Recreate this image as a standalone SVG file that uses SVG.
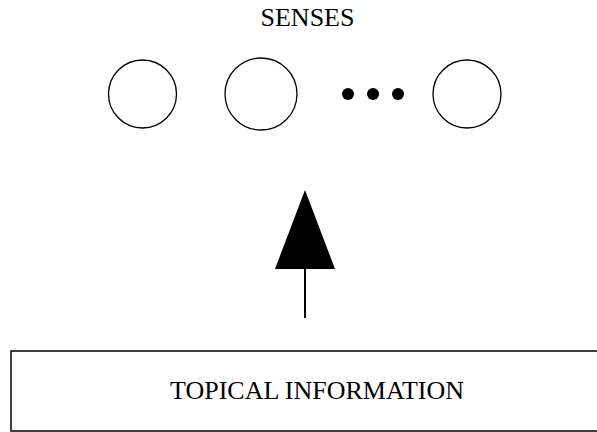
<svg xmlns="http://www.w3.org/2000/svg" width="597" height="432" viewBox="0 0 597 432">
<style>
  .t { font-family: "Liberation Serif", "Times New Roman", serif; fill: #000; text-anchor: middle; font-size: 26px; }
  .node { fill: #fff; stroke: #000; stroke-width: 1.3; }
  .dot { fill: #000; }
  .box { fill: #fff; stroke: #000; stroke-width: 1.5; }
</style>
<rect width="597" height="432" fill="#fff"/>
<g id="label-senses"><text class="t" x="307.5" y="25.5">SENSES</text></g>
<g id="sense1"><circle class="node" cx="142.5" cy="94" r="34"/></g>
<g id="sense2"><circle class="node" cx="261" cy="94" r="36"/></g>
<g id="ellipsis">
  <circle class="dot" cx="348" cy="94" r="6"/>
  <circle class="dot" cx="373" cy="94" r="6"/>
  <circle class="dot" cx="398" cy="94" r="6"/>
</g>
<g id="sense3"><circle class="node" cx="467" cy="94" r="34"/></g>
<g id="connectors">
  <line x1="305" y1="318" x2="305" y2="268" stroke="#000" stroke-width="2"/>
  <polygon points="305,190 335,269 275,269" fill="#000"/>
</g>
<g id="topical">
  <path class="box" d="M600,351 H11 V431 H600"/>
  <text class="t" x="317" y="399">TOPICAL INFORMATION</text>
</g>
</svg>
